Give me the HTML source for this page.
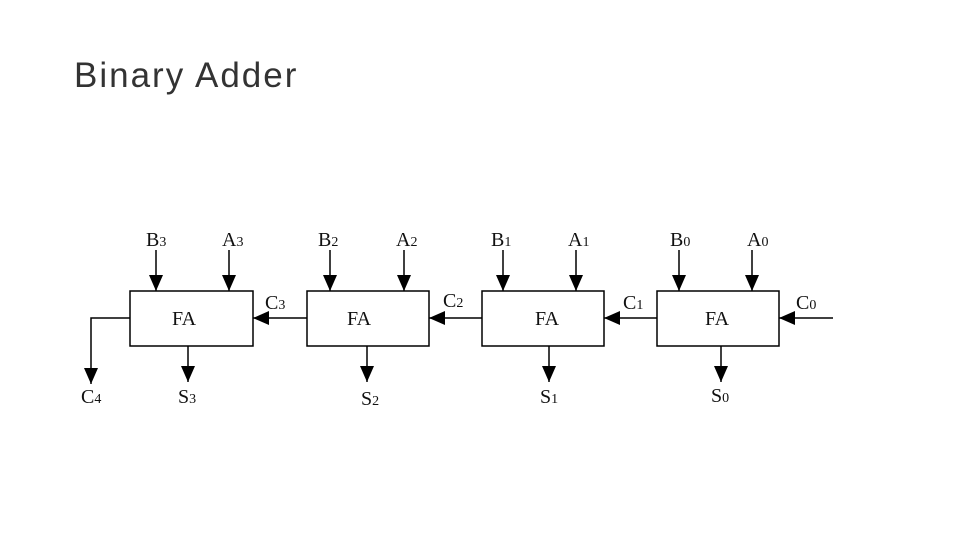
<!DOCTYPE html>
<html><head><style>
body{margin:0;width:960px;height:540px;background:#fff;overflow:hidden}
.t{position:absolute;left:74px;top:56px;font-family:"Liberation Sans",sans-serif;font-size:35px;color:#333;letter-spacing:2px}
</style></head><body>
<div class="t">Binary Adder</div>
<svg width="960" height="540" style="position:absolute;left:0;top:0" font-family="Liberation Serif,serif" font-size="20">
<defs><marker id="a" markerWidth="16" markerHeight="18" refX="16" refY="8" orient="auto" markerUnits="userSpaceOnUse"><path d="M0,1 L16,8 L0,15 z" fill="#000"/></marker></defs>
<g fill="none" stroke="#000" stroke-width="1.5">
<rect x="130" y="291" width="123" height="55"/>
<rect x="307" y="291" width="122" height="55"/>
<rect x="482" y="291" width="122" height="55"/>
<rect x="657" y="291" width="122" height="55"/>
<g marker-end="url(#a)">
<line x1="156" y1="250" x2="156" y2="291"/><line x1="229" y1="250" x2="229" y2="291"/>
<line x1="330" y1="250" x2="330" y2="291"/><line x1="404" y1="250" x2="404" y2="291"/>
<line x1="503" y1="250" x2="503" y2="291"/><line x1="576" y1="250" x2="576" y2="291"/>
<line x1="679" y1="250" x2="679" y2="291"/><line x1="752" y1="250" x2="752" y2="291"/>
<line x1="307" y1="318" x2="253" y2="318"/>
<line x1="482" y1="318" x2="429" y2="318"/>
<line x1="657" y1="318" x2="604" y2="318"/>
<line x1="833" y1="318" x2="779" y2="318"/>
<polyline points="130,318 91,318 91,384"/>
<line x1="188" y1="346" x2="188" y2="382"/>
<line x1="367" y1="346" x2="367" y2="382"/>
<line x1="549" y1="346" x2="549" y2="382"/>
<line x1="721" y1="346" x2="721" y2="382"/>
</g></g>
<g fill="#111">
<text x="146" y="246">B<tspan font-size="14">3</tspan></text><text x="222" y="246">A<tspan font-size="14">3</tspan></text>
<text x="318" y="246">B<tspan font-size="14">2</tspan></text><text x="396" y="246">A<tspan font-size="14">2</tspan></text>
<text x="491" y="246">B<tspan font-size="14">1</tspan></text><text x="568" y="246">A<tspan font-size="14">1</tspan></text>
<text x="670" y="246">B<tspan font-size="14">0</tspan></text><text x="747" y="246">A<tspan font-size="14">0</tspan></text>
<text x="172" y="325">FA</text><text x="347" y="325">FA</text><text x="535" y="325">FA</text><text x="705" y="325">FA</text>
<text x="265" y="309">C<tspan font-size="14">3</tspan></text>
<text x="443" y="307">C<tspan font-size="14">2</tspan></text>
<text x="623" y="309">C<tspan font-size="14">1</tspan></text>
<text x="796" y="309">C<tspan font-size="14">0</tspan></text>
<text x="81" y="403">C<tspan font-size="14">4</tspan></text>
<text x="178" y="403">S<tspan font-size="14">3</tspan></text>
<text x="361" y="405">S<tspan font-size="14">2</tspan></text>
<text x="540" y="403">S<tspan font-size="14">1</tspan></text>
<text x="711" y="402">S<tspan font-size="14">0</tspan></text>
</g>
</svg>
</body></html>
